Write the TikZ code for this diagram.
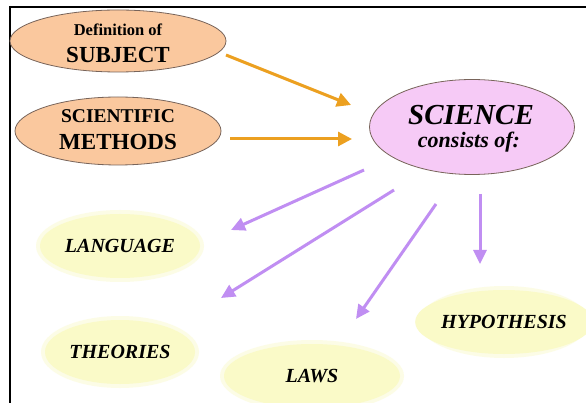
\documentclass[tikz,border=0pt]{standalone}
\usepackage{fontspec}
\setmainfont{Liberation Serif}
\usetikzlibrary{shapes.geometric,arrows.meta}
\definecolor{peach}{RGB}{250,200,158}
\definecolor{pinkv}{RGB}{246,202,246}
\definecolor{paley}{RGB}{250,250,200}
\definecolor{arrorange}{RGB}{236,160,32}
\definecolor{arrpurple}{RGB}{192,142,242}
\definecolor{edgebrown}{RGB}{120,100,90}
\begin{document}
\begin{tikzpicture}[x=1pt,y=-1pt,
  oval/.style={ellipse, inner sep=0pt, draw=edgebrown, line width=0.8pt},
  lbl/.style={anchor=base, inner sep=0pt, font=\bfseries},
  soft/.style={ellipse, inner sep=0pt, fill=paley, align=center, font=\bfseries\itshape\fontsize{20}{22}\selectfont},
  oarrow/.style={draw=arrorange, line width=3pt, -{Triangle[length=14pt,width=14pt]}},
  parrow/.style={draw=arrpurple, line width=3pt, -{Triangle[length=14pt,width=13pt]}}]
\useasboundingbox (0,0) rectangle (586,403);
\fill[white] (0,0) rectangle (586,403);
% frame
\draw[line width=2.6pt] (9,7) -- (586,7);
\draw[line width=2.6pt] (10,6) -- (10,403);
% top ovals
\node[oval, fill=peach, minimum width=216pt, minimum height=62pt] (subj) at (118,41) {};
\node[lbl, font=\bfseries\fontsize{16.5}{17}\selectfont] (subjA) at (118,36) {Definition of};
\node[lbl, font=\bfseries\fontsize{23}{24}\selectfont] (subjB) at (118,63) {SUBJECT};
\node[oval, fill=peach, minimum width=206pt, minimum height=68pt] (meth) at (118,131) {};
\node[lbl, font=\bfseries\fontsize{19.5}{20}\selectfont] (methA) at (118,123) {SCIENTIFIC};
\node[lbl, font=\bfseries\fontsize{23}{24}\selectfont] (methB) at (118,150) {METHODS};
\node[oval, fill=pinkv, minimum width=205pt, minimum height=95pt] (sci) at (472,127) {};
\node[lbl, font=\bfseries\itshape\fontsize{29}{30}\selectfont] (sciA) at (471,125) {SCIENCE};
\node[lbl, font=\bfseries\itshape\fontsize{22}{23}\selectfont] (sciB) at (469,148) {consists of:};
% soft yellow ovals
\foreach \n/\cx/\cy/\w/\h/\t in {lang/120/246/160/64/LANGUAGE, theo/120/352/150/64/THEORIES, laws/312/376/176/64/LAWS, hyp/504/322/162/64/HYPOTHESIS}{
  \fill[paley, opacity=0.45] (\cx,\cy) ellipse ({\w/2+4} and {\h/2+4});
  \node[soft, minimum width=\w pt, minimum height=\h pt] (\n) at (\cx,\cy) {\t};
}
% connector end points
\coordinate (o1s) at (226,55);  \coordinate (o1e) at (351,105);
\coordinate (o2s) at (230,139); \coordinate (o2e) at (352,139);
\coordinate (p1s) at (364,170); \coordinate (p1e) at (231,230);
\coordinate (p2s) at (394,190); \coordinate (p2e) at (221,298);
\coordinate (p3s) at (436,204); \coordinate (p3e) at (356,319);
\coordinate (p4s) at (480,194); \coordinate (p4e) at (480,264);
\draw[oarrow] (o1s) -- (o1e);
\draw[oarrow] (o2s) -- (o2e);
\draw[parrow] (p1s) -- (p1e);
\draw[parrow] (p2s) -- (p2e);
\draw[parrow] (p3s) -- (p3e);
\draw[parrow] (p4s) -- (p4e);
\end{tikzpicture}
\end{document}
